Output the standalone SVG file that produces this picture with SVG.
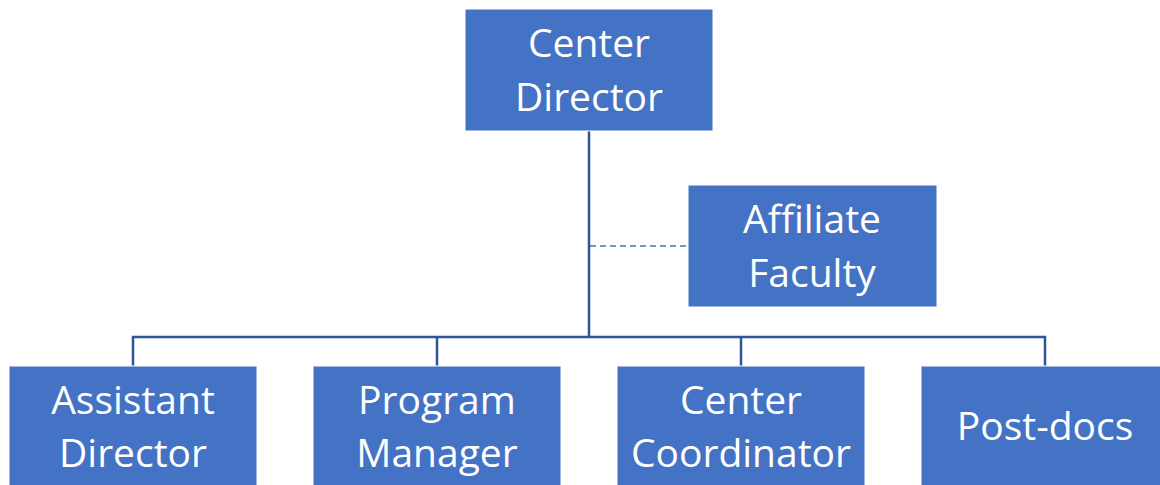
<svg xmlns="http://www.w3.org/2000/svg" width="1160" height="485" viewBox="0 0 1160 485">
<style>
.box{fill:#4472C4;stroke:#FFFFFF;stroke-width:1}
.t{font-family:"Open Sans","Liberation Sans",sans-serif;font-size:39px;fill:#FFFFFF;text-anchor:middle}
.ln{fill:none;stroke:#2F5597;stroke-width:2.5}
.dash{fill:none;stroke:#4472C4;stroke-width:1.5;stroke-dasharray:6 4}
</style>
<rect width="1160" height="485" fill="#FFFFFF"/>
<g id="connectors">
<path class="ln" d="M589 131 V337 M133 366 V337 H1045 V366 M437 337 V366 M741 337 V366"/>
<path class="dash" d="M590 246 H688"/>
</g>
<g id="center-director"><rect class="box" x="465" y="9" width="248" height="122"/><text class="t" x="589" y="57">Center</text><text class="t" x="589" y="111">Director</text></g>
<g id="affiliate-faculty"><rect class="box" x="688" y="185" width="249" height="122"/><text class="t" x="812" y="233">Affiliate</text><text class="t" x="812" y="287">Faculty</text></g>
<g id="assistant-director"><rect class="box" x="9" y="366" width="248" height="125"/><text class="t" x="133" y="414">Assistant</text><text class="t" x="133" y="467">Director</text></g>
<g id="program-manager"><rect class="box" x="313" y="366" width="248" height="125"/><text class="t" x="437" y="414">Program</text><text class="t" x="437" y="467">Manager</text></g>
<g id="center-coordinator"><rect class="box" x="617" y="366" width="248" height="125"/><text class="t" x="741" y="414">Center</text><text class="t" x="741" y="467">Coordinator</text></g>
<g id="post-docs"><rect class="box" x="921" y="366" width="248" height="125"/><text class="t" x="1045" y="440">Post-docs</text></g>
</svg>
